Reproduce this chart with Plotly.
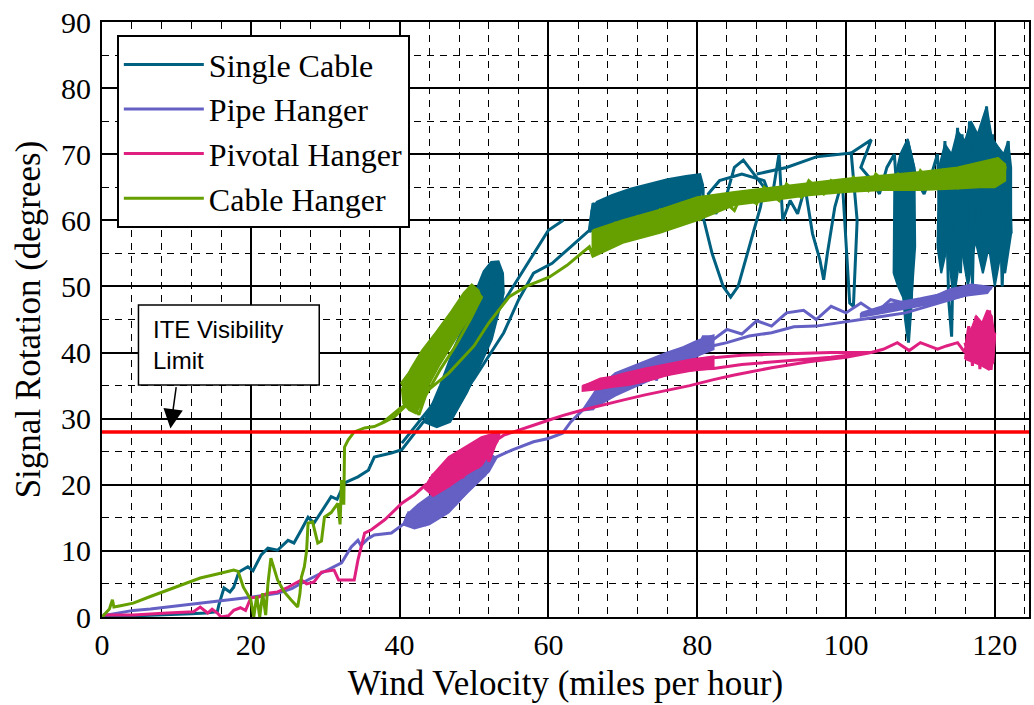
import plotly.graph_objects as go

# (wind velocity mph, signal rotation deg); None breaks a path
single_cable = [
    (0.3, 0), (3, 0.1), (6, 0.2), (9, 0.3), (12, 0.5), (14, 0.6), (15.5, 0.8), (15.7, 1.8),
    (16.4, 4.4), (17.2, 3.8), (17.7, 4.5), (18.4, 6.8), (19.6, 7.6), (20.3, 7.0), (21.4, 9.4),
    (22.3, 10.4), (23.6, 10.1), (25, 11.6), (25.8, 11.2), (26.8, 13.2), (27.7, 15.1), (28.5, 14.2),
    (29.9, 16.6), (30.8, 18.2), (31.6, 17.8), (32.6, 20.3), (34.4, 21.2), (35.8, 22.2), (36.6, 24.2),
    (38.9, 24.8), (40.3, 25.3), (41.6, 27.2), (43.4, 29.8), (44.3, 31.8),
    (45.5, 35), (47.5, 41), (49.5, 46), (51, 49), (52.3, 52), (52.8, 53.5), (53.5, 52), (53.8, 48),
    (52.5, 44), (51, 39), (49, 34), (47, 30), (45, 29), (44, 30), (46, 36), (48, 42), (50, 47.5),
    (51.5, 51), (53, 51.5), (53, 47), (51.5, 42), (50, 38), (48, 33), (46.5, 30.5), (45.5, 32),
    (47.5, 38), (49.5, 44), (51.5, 49), (52.5, 50), (52, 45), (50.5, 40), (48.5, 35), (46, 31),
    (44.5, 31),
    (None, None),
    (40.3, 26.3), (44, 31.5), (48, 37.5), (52, 44), (55, 49.5), (58, 55), (60, 58.5), (62, 60),
    (None, None),
    (46, 30), (50, 36), (54, 43), (56, 48), (58, 52), (60.5, 53.5), (63, 56), (65.5, 58.5),
    (66, 62.6), (68, 60), (69, 63.5), (71, 61), (72, 64.5), (74, 62), (75, 65.5), (77, 63), (78, 66),
    (80, 64), (80.4, 66.6), (79, 63.5), (77, 65), (75, 62.5), (73, 64), (71, 61.5), (69, 62.5),
    (67, 59.5), (66, 61), (68, 62.5), (70, 60.5), (72, 63), (74, 61.5), (76, 64.5), (78, 63),
    (80.8, 65), (80.8, 60.5), (82, 55), (83.5, 50), (84.5, 48.4), (85.5, 50), (87, 56), (88.5, 62),
    (89, 65), (88, 66.5), (86.2, 69.1), (85, 68), (84, 64), (82.5, 61), (81.5, 64), (83, 66),
    (86, 67), (89, 66), (90, 63), (91, 70), (91.2, 65), (91.5, 60), (92.5, 63), (93.5, 61),
    (94.5, 65), (95.5, 58), (96.5, 54), (97, 51), (97.5, 55), (98.5, 62), (99.5, 66), (100, 56),
    (100.5, 47.5), (101, 47), (101.5, 60), (100.7, 70.2), (103.4, 72.2), (102, 68), (103.5, 66),
    (104.5, 64), (105.5, 68), (106.5, 70), (107, 62), (107.5, 52), (108, 45), (108.4, 41.5),
    (108.8, 48), (109, 58), (108.3, 72), (109.5, 66), (110.5, 64), (111.5, 67),
    (112.3, 70), (112.8, 55), (113.3, 72), (113.8, 48), (114.2, 42.4), (114.6, 66), (115, 74),
    (115.4, 52), (115.8, 70), (116.2, 58), (116.6, 75), (117, 50), (117.4, 72), (117.8, 60),
    (118.2, 74), (118.6, 54), (118.9, 77.2), (119.3, 62), (119.7, 73), (120.1, 56), (120.5, 71),
    (121, 50), (121.4, 66), (121.8, 72), (122.2, 58), (122, 64), (121.6, 70), (121.1, 52),
    (120.6, 68), (120.1, 60), (119.6, 70), (119.1, 55), (118.6, 72), (118.1, 62), (117.6, 70),
    (117.1, 58), (116.6, 72), (116.1, 62), (115.6, 73), (115.1, 56), (114.6, 70), (114.1, 60),
    (113.6, 68), (113.1, 62), (112.6, 66),
    (None, None),
    (88, 67), (92, 68), (96, 69.6), (100.7, 70.2),
]

# outlines of the places where the single cable trace is so dense it reads as solid
single_cable_dense = [
    [(43.3, 29.5), (44.6, 32.5), (46, 35.5), (47.3, 39), (48.4, 42.5), (49.4, 46), (50.3, 49.5),
     (51.3, 52.3), (52.3, 53.7), (53.3, 53.8), (53.9, 52), (54, 49), (53.3, 46), (52.4, 42),
     (51, 38.5), (49.5, 35), (48, 32), (46.8, 29.5), (45, 28.7)],
    [(65.5, 58.2), (65.8, 61.5), (66.5, 62.8), (68.5, 63.8), (71, 64.8), (73.5, 65.5), (76, 66.2),
     (78.5, 66.7), (80.4, 67), (80.8, 65.3), (80.4, 63.6), (78, 62.8), (76, 62.2), (73.5, 61.3),
     (71, 60.4), (68.5, 59.5), (66, 58.5)],
    [(106.4, 52), (106.5, 66), (107.3, 70), (108.3, 72.3), (109.2, 68), (109.3, 56), (108.8, 48),
     (108.4, 42), (107.8, 48), (107, 50)],
    [(112.3, 56), (112.5, 68), (113.3, 71.5), (114.2, 70), (115, 73.5), (116, 72), (116.8, 75),
     (117.7, 73), (118.9, 77.2), (119.6, 72.5), (120.5, 71), (121.2, 70), (121.8, 72), (122.2, 68),
     (122.2, 58), (121.4, 52), (120.8, 55), (120, 50), (119.2, 56), (118.4, 52), (117.4, 57),
     (116.4, 50), (115.5, 56), (114.5, 48), (113.6, 56), (112.8, 52)],
]

pipe_hanger = [
    (0.7, 0.3), (2.5, 0.7), (4.2, 1), (6.5, 1.2), (8.8, 1.5), (11, 1.8), (13.2, 2.1), (15, 2.3),
    (16.9, 2.6), (20, 3), (23.6, 3.6), (25.5, 4.3), (26.8, 5.1), (29.5, 6.7), (32.2, 8.2),
    (33.5, 10.6), (34.4, 11.6), (34.8, 10.8), (35.8, 11.9), (36.6, 12.4), (38.9, 12.7),
    (40.7, 14.2), (41.2, 15.7),
    (42, 15), (44, 17.5), (46, 19.5), (48, 21), (50, 22.5), (52.4, 24.2), (51.5, 21.5),
    (49.5, 19.5), (47.5, 17), (45.5, 15.5), (43.5, 14), (42.5, 15.5), (44.5, 18), (46.5, 20),
    (48.5, 22), (50.5, 23.5), (51, 21), (49, 18.8), (47, 16.5), (45, 15), (43, 14.5), (44, 16.5),
    (46, 18.5), (48, 20), (50, 21.5), (52, 23), (53, 24.2),
    (55, 25.2), (58, 26.5), (60, 27), (61.9, 27.8), (63, 29.5), (64.6, 31.3),
    (66, 31.5), (68, 35.5), (69, 33.9), (71, 37.5), (72, 35), (73.6, 38.9), (74.5, 35.8), (76, 40),
    (77, 37), (78.1, 40.8), (79, 38), (80.8, 42.4), (82.2, 42.4), (80, 39.5), (78, 38.5),
    (76, 37.5), (74, 36.5), (72, 35.5), (70, 34.5), (68, 33.5), (66, 32.5), (65, 31.5), (67, 33),
    (69, 35), (71, 36.5), (73, 37.5), (75, 38.5), (77, 39.5), (79, 40.5), (81, 41),
    (84, 43.5), (86, 42.8), (88, 44.8), (90, 44), (92, 46), (94.3, 46.4), (96, 45), (98, 47),
    (100, 46), (102, 47.5), (104, 46), (106, 48), (107.8, 47.5), (110, 48), (112, 48.5),
    (114, 49.5), (116.9, 50.2), (118, 49.8), (119.6, 49.8), (117, 49), (114, 48), (111, 47),
    (108, 46), (105, 45.5), (102, 45), (99, 44.5), (96, 44), (93, 43.9), (90, 43), (87, 42.5),
    (84, 41.5), (82, 41),
]

pipe_hanger_dense = [
    [(40.5, 14), (41, 15.5), (42.5, 17), (44, 18.2), (46.6, 20.3), (49, 22.3), (51, 23.6),
     (52.4, 24.5), (53, 24), (52, 22), (51, 21), (49, 18.8), (46.6, 15.8), (44, 14), (42, 13.4)],
    [(64.6, 31.3), (66.5, 34.5), (69, 36.9), (71.5, 38), (73.6, 38.9), (76, 40), (78.1, 40.8),
     (80, 41.8), (82.2, 42.6), (82.2, 40.5), (80, 39.5), (78, 38.5), (75.5, 37), (73.6, 35.8),
     (71, 34.5), (69, 33.5), (67, 32.2)],
    [(102, 46), (106, 47.4), (110, 48.2), (113, 48.9), (116.9, 50.3), (119.6, 49.9),
     (119, 49), (116, 48.6), (112, 47.5), (108, 46.6), (104, 45.8), (102, 45.4)],
]

pivotal_hanger = [
    (0.1, 0.3), (4.2, 0.3), (8.8, 0.6), (12.3, 0.8), (13.2, 1.5), (14.2, 0.6), (14.8, 1.2),
    (15.5, 0.6), (16, 0), (17, 0.2), (17.7, 1), (18.6, 1.4), (19.3, 1), (20, 2.9), (21, 3),
    (22.3, 3.6), (23.6, 3.8), (25, 4.5), (26.8, 5.6), (27.5, 5.0), (28.5, 5.3), (29.5, 6.8),
    (31.2, 7.1), (31.8, 5.6), (33.9, 5.6), (34.4, 8.6), (35.3, 12.7), (36.2, 13.2), (38, 14.7),
    (39.3, 16.2), (40.3, 17.2), (42, 18.5),
    (43.5, 20), (44.3, 19.7), (45.7, 22.2), (46.6, 19.7), (47.5, 23.5), (48.5, 21), (49.5, 25),
    (50.5, 22.5), (51.5, 26.5), (52, 23.5), (53.4, 27.8), (52.8, 27.2), (51, 24.5), (49.5, 23.5),
    (48, 22), (46.5, 21), (45, 20), (44.5, 21.5), (46, 22.5), (47.5, 22), (49, 24), (50.5, 25.5),
    (52, 26),
    (54, 27.5), (56, 28.3), (58, 29), (60.1, 29.8), (62, 30.5), (64.6, 31.3), (67, 32), (70, 32.8),
    (73, 33.6), (76, 34.3), (79, 35), (82.2, 35.9),
    (85, 36.6), (90, 37.7), (95, 38.6), (100, 39.3), (103.4, 40), (98, 40), (92, 39.8), (86, 39.6),
    (82.2, 39.2), (79, 38.8), (76, 38), (73, 37.3), (70, 36.5), (67, 36), (64.6, 34.8), (68, 34.8),
    (71, 35.2), (74, 36), (77, 37), (80, 37.5), (82.2, 37.6), (86, 38.2), (92, 38.8), (98, 39.3),
    (103.4, 40), (105, 40.5), (106.9, 41.5), (108.5, 40.3), (110, 41.5), (112.3, 40.5),
    (113.5, 41), (115, 41.5),
    (116, 40), (116.5, 44), (117, 38), (117.5, 45.5), (118, 37.5), (118.5, 44), (119, 38.5),
    (119.3, 46.4), (119.7, 39), (120, 43), (119.5, 37.4), (119, 42), (118.5, 39), (118, 43.5),
    (117.5, 38.5), (117, 42), (116.5, 39), (116, 41.5),
]

pivotal_hanger_dense = [
    [(43.3, 19.5), (44.3, 21.3), (46.6, 24.2), (49, 25.8), (51, 27.2), (53.4, 28), (53.2, 26.6),
     (51, 22.9), (49, 21.6), (46.6, 19.7), (44.5, 18.3)],
    [(64.6, 35), (67, 35.8), (70, 36.8), (73, 37.6), (76, 38.3), (79, 38.9), (82.2, 39.4),
     (82.2, 37.6), (79, 37.2), (76, 36.6), (73, 36), (70, 35.3), (67, 34.5), (64.6, 34.2)],
    [(116, 39), (116.3, 42.5), (117, 44), (117.5, 45.5), (118.3, 44.5), (119, 46.4), (119.6, 45.5),
     (120, 42), (119.8, 38.5), (119.2, 37.4), (118.3, 38), (117.3, 38.5)],
]

cable_hanger = [
    (0, 0), (1, 1.2), (1.4, 2.6), (1.6, 1.5), (2.5, 1.7), (4.2, 2.1), (6.5, 3.1), (8.8, 4.1),
    (11, 5.0), (13.2, 5.9), (15.5, 6.5), (17.7, 7.1), (18.3, 6.9), (19, 4.5), (20, 2.6),
    (20.4, 0), (20.8, 3.2), (21.2, 0), (21.6, 3.6), (22, 0.3), (22.3, 5), (22.7, 8.9), (23.6, 5.6),
    (24.5, 3.8), (25.4, 2.6), (26.3, 1.5), (26.6, 3.5), (26.8, 6), (27.2, 7.6), (27.5, 10),
    (27.7, 14.2), (28.3, 14.4), (29, 11.2), (29.5, 11.5), (29.9, 15.1), (30.8, 15.8), (31.7, 17.2),
    (32, 14), (32.2, 20.7), (32.5, 17), (32.6, 25.7), (33.1, 26.8), (33.9, 28), (35.3, 28.6),
    (36.6, 28.8), (38, 29.5), (39.3, 30.3), (40.7, 31.8), (41.6, 32.8),
    (40.3, 35.4), (42, 38), (44, 41.5), (46, 44.5), (48, 47), (49.7, 49.9), (50.5, 49), (51, 48.4),
    (49.5, 45), (47.5, 41), (45.5, 37.5), (43.5, 33.5), (42.6, 30.6), (41, 33), (42.5, 36.5),
    (44.5, 40), (46.5, 43.5), (48.5, 46.5), (50, 48), (48, 43.5), (46, 40), (44, 36), (42, 32.5),
    (40.7, 31.8), (41.5, 35), (43.5, 38.5), (45.5, 42), (47.5, 45.5), (49.5, 47.5),
    (None, None),
    (37.6, 29.3), (40, 31.5), (43.4, 33.9), (46.6, 36.9), (50, 41), (52, 44.5), (54.7, 48.4),
    (57, 50), (60.1, 51.4), (62.5, 53.2), (65.5, 56),
    (66, 54.5), (66, 58.5), (68, 56), (69, 59.5), (71, 57.5), (72, 60.5), (74, 58.5), (75, 61.5),
    (77, 59.5), (78, 62.5), (80.4, 60), (80.4, 63.6), (82, 61), (83, 63.5), (85, 61.5), (86, 64),
    (88, 62.5), (89, 65), (91, 63), (92, 65.5), (94, 63.5), (95, 66), (97, 64), (98, 66),
    (100, 64.5), (101, 66.5), (103, 64.5), (104, 67), (106, 65), (107, 67), (109, 65), (110, 67.5),
    (112, 65), (113, 67.5), (115, 65), (116, 68), (118, 65.5), (119, 68.5), (119.6, 65),
    (120.4, 69.4), (121.4, 68), (121, 66),
]

cable_hanger_dense = [
    [(40.3, 34.5), (41.5, 37.5), (43, 40.3), (45, 43.2), (47, 46.3), (48.6, 49), (49.7, 50.3),
     (50.6, 49.4), (51, 48.2), (49.8, 46), (48.3, 43.5), (46.8, 40.8), (45.3, 38), (44, 35.3),
     (43, 32.5), (42.2, 30.8), (41.3, 31.3), (40.5, 32.3)],
    [(66, 58.5), (70, 60), (75, 61.6), (80, 63.5), (85, 64.3), (90, 65), (95, 65.7), (100, 66.3),
     (105, 66.8), (110, 67.3), (115, 68), (118, 68.8), (120.4, 69.4), (121.4, 68.5), (121.4, 66),
     (120, 65), (118, 65), (115, 64.8), (110, 64.6), (105, 64.6), (100, 64.3), (95, 63.8),
     (90, 63), (85, 62.3), (80, 60), (75, 58.1), (70, 56.6), (66, 54.5)],
]

series_names = ["Single Cable", "Pipe Hanger", "Pivotal Hanger", "Cable Hanger"]
series_data = [single_cable, pipe_hanger, pivotal_hanger, cable_hanger]
series_dense = [single_cable_dense, pipe_hanger_dense, pivotal_hanger_dense, cable_hanger_dense]
series_colors = ["rgb(0,96,128)", "rgb(100,96,196)", "rgb(224,32,128)", "rgb(102,160,0)"]

ite_limit = 28
x_ticks = [0, 20, 40, 60, 80, 100, 120]
y_ticks = [0, 10, 20, 30, 40, 50, 60, 70, 80, 90]

serif = "Liberation Serif"

fig = go.Figure()
for name, pts, dense, color in zip(series_names, series_data, series_dense, series_colors):
    for poly in dense:
        fig.add_trace(
            go.Scatter(
                x=[p[0] for p in poly] + [poly[0][0]],
                y=[p[1] for p in poly] + [poly[0][1]],
                mode='lines',
                fill='toself',
                fillcolor=color,
                line=dict(color=color, width=2),
                legendgroup=name,
                showlegend=False,
                hoverinfo='skip',
            )
        )
    fig.add_trace(
        go.Scatter(
            x=[p[0] for p in pts],
            y=[p[1] for p in pts],
            mode='lines',
            name=name,
            legendgroup=name,
            line=dict(color=color, width=3),
        )
    )

fig.add_hline(y=ite_limit, line=dict(color='rgb(255,0,0)', width=3.5))

# callout box
fig.add_shape(
    type='rect', xref='x', yref='y',
    x0=4.9, x1=29.2, y0=35.1, y1=47.2,
    line=dict(color='black', width=1.5),
    fillcolor='white',
)
fig.add_annotation(
    x=6.6, y=41.2, xref='x', yref='y',
    text="ITE Visibility<br>Limit",
    showarrow=False, xanchor='left', yanchor='middle', align='left',
    font=dict(family="Liberation Sans", size=24, color='black'),
)
fig.add_annotation(
    x=9.2, y=28.5, ax=10, ay=35.0,
    xref='x', yref='y', axref='x', ayref='y',
    text="", showarrow=True,
    arrowhead=2, arrowsize=2.6, arrowwidth=1.5, arrowcolor='black',
)

axis_common = dict(
    showline=True,
    mirror=True,
    linecolor='black',
    linewidth=2,
    showgrid=True,
    gridcolor='black',
    gridwidth=1.5,
    zeroline=False,
    ticks='',
    tickfont=dict(family=serif, size=30, color='black'),
)

fig.update_layout(
    width=1034,
    height=705,
    paper_bgcolor='white',
    plot_bgcolor='white',
    margin=dict(l=102, r=5, t=22, b=88, autoexpand=False),
    xaxis=dict(
        axis_common,
        range=[0, 124.6],
        tickvals=x_ticks,
        ticklabelstandoff=0,
        minor=dict(dtick=4, tick0=0, showgrid=True, gridcolor='black',
                   gridwidth=1, griddash='7px,6px'),
        title=dict(text="Wind Velocity (miles per hour)",
                   font=dict(family=serif, size=35, color='black'), standoff=10),
    ),
    yaxis=dict(
        axis_common,
        range=[0, 90],
        tickvals=y_ticks,
        ticklabelstandoff=3,
        minor=dict(dtick=5, tick0=0, showgrid=True, gridcolor='black',
                   gridwidth=1, griddash='7px,6px'),
        title=dict(text="Signal Rotation (degrees)",
                   font=dict(family=serif, size=35, color='black'), standoff=10),
    ),
    showlegend=True,
    legend=dict(
        x=0.016,
        y=0.978,
        xanchor='left',
        yanchor='top',
        bgcolor='white',
        bordercolor='black',
        borderwidth=2,
        itemwidth=80,
        tracegroupgap=0,
        font=dict(family=serif, size=32, color='black'),
    ),
)

# the page body has a default 8px margin; drop it so the figure sits at the window corner
fig.write_html(
    "out.html",
    config={'displayModeBar': False},
    post_script="document.body.style.margin='0';",
)
